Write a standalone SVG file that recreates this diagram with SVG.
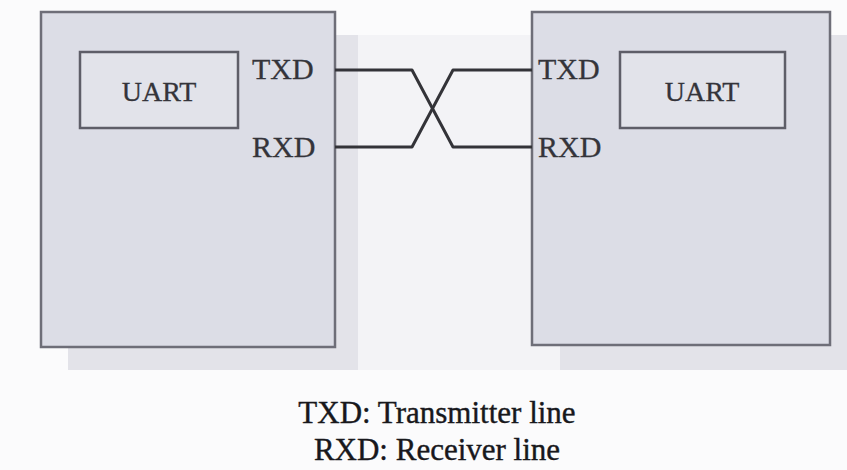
<svg xmlns="http://www.w3.org/2000/svg" width="847" height="470" viewBox="0 0 847 470">
<style>
.bg{fill:#fbfbfc}
.shadow{fill:#e3e3e9}
.strip{fill:#f3f3f6}
.box{fill:#dcdde6;stroke:#6e6e78;stroke-width:2.5}
.inner{fill:#e2e3ea;stroke:#5e5e68;stroke-width:2.5}
.lbl{font-family:"Liberation Serif","Times New Roman",serif;fill:#34343a;stroke:#34343a;stroke-width:0.3}
.wire{fill:none;stroke:#333338;stroke-width:3;stroke-linejoin:round}
.cap{font-family:"Liberation Serif","Times New Roman",serif;fill:#18181c;stroke:#18181c;stroke-width:0.4;font-size:31px;text-anchor:middle}
</style>
<rect class="bg" x="0" y="0" width="847" height="470"/>
<rect class="strip" x="356" y="35" width="204" height="335"/>
<g id="left-device">
<rect class="shadow" x="68" y="35" width="290" height="335"/>
<rect class="box" x="41" y="12" width="294" height="335"/>
<g id="left-uart">
<rect class="inner" x="80" y="52" width="158" height="76"/>
<text class="lbl" x="159" y="101" font-size="28" text-anchor="middle">UART</text>
</g>
<text class="lbl" x="252" y="79" font-size="30">TXD</text>
<text class="lbl" x="252" y="157" font-size="30">RXD</text>
</g>
<g id="right-device">
<rect class="shadow" x="560" y="35" width="287" height="335"/>
<rect class="box" x="532" y="12" width="298" height="333"/>
<g id="right-uart">
<rect class="inner" x="620" y="52" width="165" height="76"/>
<text class="lbl" x="702" y="101" font-size="28" text-anchor="middle">UART</text>
</g>
<text class="lbl" x="538" y="79" font-size="30">TXD</text>
<text class="lbl" x="538" y="157" font-size="30">RXD</text>
</g>
<g id="connectors">
<path class="wire" d="M335,70 H412 L453,147 H532"/>
<path class="wire" d="M335,147 H412 L453,70 H532"/>
</g>
<g id="legend">
<text class="cap" x="437" y="423">TXD: Transmitter line</text>
<text class="cap" x="437" y="460">RXD: Receiver line</text>
</g>
</svg>
